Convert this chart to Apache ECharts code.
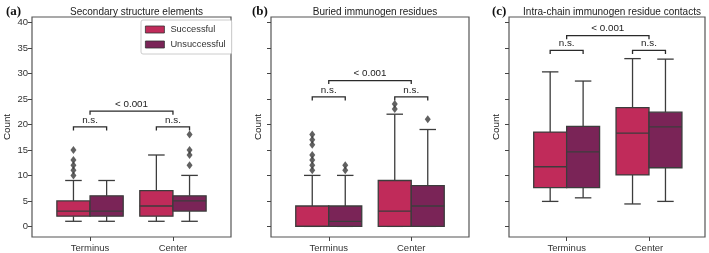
<!DOCTYPE html>
<html>
<head>
<meta charset="utf-8">
<script src="https://cdn.jsdelivr.net/npm/echarts@6/dist/echarts.min.js"></script>
<style>
html,body{margin:0;padding:0;background:#fff;}
#chart{width:709px;height:253px;}
</style>
</head>
<body>
<div id="chart"></div>
<script>
// ---------- data ----------
const categories = ['Terminus', 'Center'];
const groups = ['Successful', 'Unsuccessful'];
const panelTitles = ['Secondary structure elements', 'Buried immunogen residues', 'Intra-chain immunogen residue contacts'];
const panelLetters = ['(a)', '(b)', '(c)'];
const yTicks = [0, 5, 10, 15, 20, 25, 30, 35, 40];

// box stats per category: [low whisker, Q1, median, Q3, high whisker]
const secSuccessful   = [[1, 2, 3, 5, 9],  [1, 2, 4, 7, 14]];
const secUnsuccessful = [[1, 2, 3, 6, 9],  [1, 3, 5, 6, 10]];
const secSuccessfulOut   = [[10, 11, 12, 13, 15], []];
const secUnsuccessfulOut = [[], [12, 14, 15, 18]];

const burSuccessful   = [[0, 0, 0, 4, 10], [0, 0, 3, 9, 22]];
const burUnsuccessful = [[0, 0, 1, 4, 10], [0, 0, 4, 8, 19]];
const burSuccessfulOut   = [[11, 12, 13, 14, 16, 17, 18], [23, 24]];
const burUnsuccessfulOut = [[11, 12], [21]];

const conSuccessful   = [[4.9, 7.6, 11.7, 18.5, 30.3], [4.4, 10.1, 18.3, 23.3, 32.9]];
const conUnsuccessful = [[5.6, 7.6, 14.6, 19.6, 28.5], [4.9, 11.5, 19.5, 22.4, 32.8]];
const conSuccessfulOut   = [[], []];
const conUnsuccessfulOut = [[], []];

// significance brackets: [from, to, level, label]
const secBrackets = [
  ['Terminus:Successful', 'Terminus:Unsuccessful', 19.5, 'n.s.'],
  ['Center:Successful', 'Center:Unsuccessful', 19.5, 'n.s.'],
  ['Terminus', 'Center', 22.6, '< 0.001']
];
const burBrackets = [
  ['Terminus:Successful', 'Terminus:Unsuccessful', 25.4, 'n.s.'],
  ['Center:Successful', 'Center:Unsuccessful', 25.4, 'n.s.'],
  ['Terminus', 'Center', 28.6, '< 0.001']
];
const conBrackets = [
  ['Terminus:Successful', 'Terminus:Unsuccessful', 34.5, 'n.s.'],
  ['Center:Successful', 'Center:Unsuccessful', 34.5, 'n.s.'],
  ['Terminus', 'Center', 37.4, '< 0.001']
];

// ---------- style ----------
const colors = {Successful: '#c02b5a', Unsuccessful: '#7a2457'};
const edge = '#3c3c3c';
const BOX_W = 0.4, CAP_W = 0.2, GROUP_OFF = [-0.2, 0.2];
const FONT = '"Liberation Sans", Arial, sans-serif';

const grids = [
  {left: 32, top: 17, width: 199, height: 220},
  {left: 271, top: 17, width: 198, height: 220},
  {left: 509, top: 17, width: 196, height: 220}
];
const xMax = [1.7, 1.7, 1.68];
const nameGaps = [20, 7.5, 7.5];

const panels = [
  {stats: [secSuccessful, secUnsuccessful], outs: [secSuccessfulOut, secUnsuccessfulOut], brackets: secBrackets},
  {stats: [burSuccessful, burUnsuccessful], outs: [burSuccessfulOut, burUnsuccessfulOut], brackets: burBrackets},
  {stats: [conSuccessful, conUnsuccessful], outs: [conSuccessfulOut, conUnsuccessfulOut], brackets: conBrackets}
];

function posOf(key) {
  const [cat, grp] = key.split(':');
  const c = categories.indexOf(cat);
  return grp ? c + GROUP_OFF[groups.indexOf(grp)] : c;
}

function boxRender(offset, color) {
  return function (params, api) {
    const c = api.value(0) + offset;
    const lo = api.value(1), q1 = api.value(2), md = api.value(3), q3 = api.value(4), hi = api.value(5);
    const half = api.size([BOX_W, 0])[0] / 2;
    const cap = api.size([CAP_W, 0])[0] / 2;
    const x = api.coord([c, 0])[0];
    const y = v => api.coord([c, v])[1];
    const ls = {stroke: edge, lineWidth: 1.3};
    return {
      type: 'group',
      children: [
        {type: 'line', shape: {x1: x, y1: y(q3), x2: x, y2: y(hi)}, style: ls},
        {type: 'line', shape: {x1: x, y1: y(q1), x2: x, y2: y(lo)}, style: ls},
        {type: 'line', shape: {x1: x - cap, y1: y(hi), x2: x + cap, y2: y(hi)}, style: ls},
        {type: 'line', shape: {x1: x - cap, y1: y(lo), x2: x + cap, y2: y(lo)}, style: ls},
        {type: 'rect', shape: {x: x - half, y: y(q3), width: 2 * half, height: y(q1) - y(q3)},
          style: {fill: color, stroke: edge, lineWidth: 1.3}},
        {type: 'line', shape: {x1: x - half, y1: y(md), x2: x + half, y2: y(md)}, style: ls}
      ]
    };
  };
}

function bracketRender(list) {
  return function (params, api) {
    const x1 = api.coord([api.value(0), api.value(2)]);
    const x2 = api.coord([api.value(1), api.value(2)]);
    const drop = api.size([0, 0.7])[1];
    const yy = x1[1];
    return {
      type: 'group',
      children: [
        {type: 'polyline', shape: {points: [[x1[0], yy + drop], [x1[0], yy], [x2[0], yy], [x2[0], yy + drop]]},
          style: {stroke: '#2a2a2a', lineWidth: 1.3, fill: null}},
        {type: 'text', x: (x1[0] + x2[0]) / 2, y: yy - 2,
          style: {text: list[params.dataIndex][3], align: 'center', verticalAlign: 'bottom',
            font: '9.8px ' + FONT, fill: '#222'}}
      ]
    };
  };
}

const xAxis = [], yAxis = [], series = [], titles = [];
panels.forEach((p, i) => {
  xAxis.push({
    gridIndex: i, type: 'value', min: -0.7, max: xMax[i], position: 'bottom',
    axisLine: {show: false, onZero: false}, splitLine: {show: false},
    axisTick: {show: true, length: 4, customValues: [0, 1], lineStyle: {color: '#444', width: 1}},
    axisLabel: {show: true, customValues: [0, 1], formatter: v => categories[Math.round(v)],
      fontSize: 9.5, fontFamily: FONT, color: '#333', margin: 6}
  });
  yAxis.push({
    gridIndex: i, type: 'value', min: -2.08, max: 41.06, position: 'left',
    axisLine: {show: false, onZero: false}, splitLine: {show: false},
    axisTick: {show: true, length: 4, customValues: yTicks, lineStyle: {color: '#444', width: 1}},
    axisLabel: {show: i === 0, customValues: yTicks, fontSize: 9.5, fontFamily: FONT, color: '#333', margin: 4},
    name: 'Count', nameLocation: 'middle', nameGap: nameGaps[i], nameRotate: 90,
    nameTextStyle: {fontSize: 9.8, fontFamily: FONT, color: '#222'}
  });
  groups.forEach((g, gi) => {
    series.push({
      type: 'custom', name: g, xAxisIndex: i, yAxisIndex: i,
      itemStyle: {color: colors[g]},
      renderItem: boxRender(GROUP_OFF[gi], colors[g]),
      encode: {x: 0, y: [1, 2, 3, 4, 5]},
      data: p.stats[gi].map((s, ci) => [ci].concat(s)),
      z: 2
    });
    const outData = [];
    p.outs[gi].forEach((arr, ci) => arr.forEach(v => outData.push([ci + GROUP_OFF[gi], v])));
    series.push({
      type: 'scatter', name: 'outliers', xAxisIndex: i, yAxisIndex: i,
      symbol: 'diamond', symbolSize: [6, 8],
      itemStyle: {color: '#3a3a3a'},
      data: outData, z: 3, silent: true
    });
  });
  series.push({
    type: 'custom', name: 'brackets', xAxisIndex: i, yAxisIndex: i,
    renderItem: bracketRender(p.brackets),
    encode: {x: [0, 1], y: 2},
    data: p.brackets.map(b => [posOf(b[0]), posOf(b[1]), b[2]]),
    z: 4, silent: true
  });
  titles.push({
    text: panelTitles[i], left: grids[i].left + grids[i].width / 2, top: 2, textAlign: 'center',
    textStyle: {fontSize: 10, fontWeight: 'normal', fontFamily: FONT, color: '#222'}
  });
});
const letterX = [1, 247, 487];
panelLetters.forEach((t, i) => titles.push({
  text: t, left: letterX[i], top: 0,
  textStyle: {fontSize: 13, fontWeight: 'bold', fontFamily: '"Liberation Serif", "Times New Roman", serif', color: '#111'}
}));

const option = {
  animation: false,
  backgroundColor: '#fff',
  title: titles,
  grid: grids.map(g => Object.assign({show: true, borderColor: '#555', borderWidth: 1.2, backgroundColor: 'transparent'}, g)),
  xAxis, yAxis, series,
  legend: {
    data: groups, left: 141, top: 20, orient: 'vertical', icon: 'rect',
    itemWidth: 19, itemHeight: 7, itemGap: 6, padding: [5, 6, 5, 4],
    borderColor: '#ccc', borderWidth: 1, borderRadius: 2, backgroundColor: '#fff',
    itemStyle: {borderColor: '#333', borderWidth: 0.8},
    textStyle: {fontSize: 9.3, fontFamily: FONT, color: '#333', padding: [0, 0, 0, 1]}
  }
};
const chart = echarts.init(document.getElementById('chart'), null, {renderer: 'canvas'});
chart.setOption(option);
</script>
</body>
</html>
